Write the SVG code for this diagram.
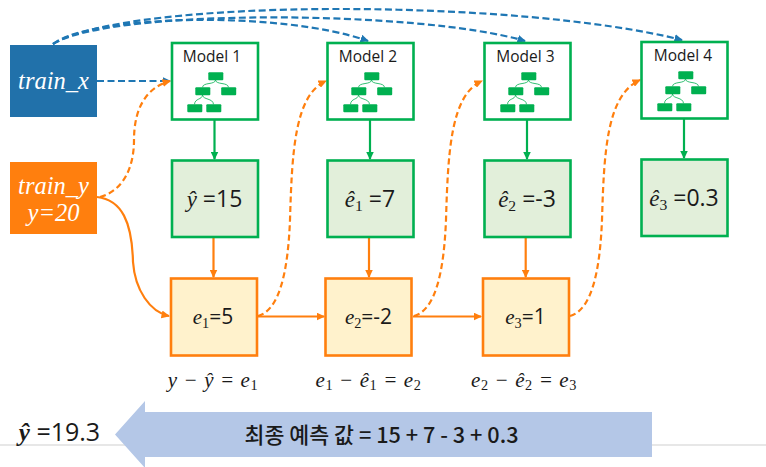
<svg xmlns="http://www.w3.org/2000/svg" xmlns:xlink="http://www.w3.org/1999/xlink" width="766" height="467" viewBox="0 0 766 467">
<style>
.model{fill:#fff;stroke:#00b050;stroke-width:2.600}
.pred{fill:#e2efda;stroke:#00b050;stroke-width:2.600}
.err{fill:#fff2cc;stroke:#ff7f0e;stroke-width:2.600}
.ui{font-family:"Open Sans","Noto Sans",sans-serif;fill:#1a1a1a;text-anchor:middle}
.lbl{font-size:15.500px}
.val{font-size:23px}
.eval{font-size:21px}
.math{font-family:"Liberation Serif","DejaVu Serif",serif;font-style:italic}
.sub{font-size:.68em;font-style:normal}
.inp{font-family:"Liberation Serif",serif;font-style:italic;font-size:24.500px;fill:#fff;text-anchor:middle}
.formula{font-family:"Liberation Serif",serif;font-style:italic;font-size:21px;letter-spacing:.6px;fill:#1a1a1a;text-anchor:middle}
.con{fill:none;stroke-width:2.200}
.blue{stroke:#1f77b4;stroke-dasharray:7 3.500}
.od{stroke:#ff7f0e;stroke-dasharray:6 3.500}
.os{stroke:#ff7f0e}
.gs{stroke:#00b050}
</style>
<defs>
<marker id="ab" markerWidth="9" markerHeight="8" refX="7.500" refY="4" orient="auto" markerUnits="userSpaceOnUse"><path d="M0 0L8.500 4L0 8z" fill="#1f77b4"/></marker>
<marker id="ao" markerWidth="9" markerHeight="8" refX="7.500" refY="4" orient="auto" markerUnits="userSpaceOnUse"><path d="M0 0L8.500 4L0 8z" fill="#ff7f0e"/></marker>
<marker id="ag" markerWidth="9" markerHeight="8" refX="7.500" refY="4" orient="auto" markerUnits="userSpaceOnUse"><path d="M0 0L8.500 4L0 8z" fill="#00b050"/></marker>
<g id="tree">
<path d="M215.500 80C215 85 203 82 202.500 87.300M215.500 80C216 85 228 82 228.500 87.300M202.500 95C202 100 195 98 194.500 104.300M202.500 95C203 100 213 98 213.500 104.300" fill="none" stroke="#00b050" stroke-width=".8"/>
<rect x="208.300" y="72.300" width="15" height="8" rx="1" fill="#00b050"/>
<rect x="195.300" y="87.300" width="15" height="8" rx="1" fill="#00b050"/>
<rect x="221.200" y="87.300" width="15" height="8" rx="1" fill="#00b050"/>
<rect x="187.300" y="104.300" width="15" height="8" rx="1" fill="#00b050"/>
<rect x="206.300" y="104.300" width="15" height="8" rx="1" fill="#00b050"/>
</g>
</defs>
<rect width="766" height="467" fill="#fff"/>
<line x1="0" y1="445" x2="766" y2="445" stroke="#d0d0d0" stroke-width="1.200"/>

<g id="connectors">
<path class="con blue" marker-end="url(#ab)" d="M53 44C90 15 280 10 368 41"/>
<path class="con blue" marker-end="url(#ab)" d="M53 44C110 8 420 10 525 41"/>
<path class="con blue" marker-end="url(#ab)" d="M53 44C130 -3 520 -1 682 40"/>
<path class="con blue" marker-end="url(#ab)" d="M97 81H170"/>
<path class="con od" marker-end="url(#ao)" d="M100 197C125 190 134 165 134 140C134 110 145 88 170 81"/>
<path class="con od" marker-end="url(#ao)" d="M258 316C280 310 288 270 290 220C292 150 295 95 326 81"/>
<path class="con od" marker-end="url(#ao)" d="M414 316C436 310 444 270 446 220C448 150 451 95 482 81"/>
<path class="con od" marker-end="url(#ao)" d="M570 316C592 310 600 270 602 220C604 150 607 95 640 80"/>
<path class="con os" marker-end="url(#ao)" d="M97 197C122 200 132 222 133 262C135 290 150 312 169 316"/>
<path class="con gs" marker-end="url(#ag)" d="M214.500 120V159"/>
<path class="con gs" marker-end="url(#ag)" d="M370 120V159"/>
<path class="con gs" marker-end="url(#ag)" d="M527 120V159"/>
<path class="con gs" marker-end="url(#ag)" d="M684 119V158"/>
<path class="con os" marker-end="url(#ao)" d="M213.500 238V277"/>
<path class="con os" marker-end="url(#ao)" d="M369 238V277"/>
<path class="con os" marker-end="url(#ao)" d="M525.700 238V277"/>
<path class="con os" marker-end="url(#ao)" d="M258 316.500H324"/>
<path class="con os" marker-end="url(#ao)" d="M413 316.500H481"/>
</g>

<g id="train_x"><rect x="10" y="45" width="87" height="72" fill="#2171aa"/><text class="inp" x="53.500" y="89">train_x</text></g>
<g id="train_y"><rect x="10" y="162" width="87" height="72" fill="#ff7f0e"/><text class="inp" x="53.500" y="194">train_y</text><text class="inp" x="53.500" y="221">y=20</text></g>

<g id="model1"><rect class="model" x="172" y="43" width="86" height="76.500"/><text class="ui lbl" x="212" y="62">Model 1</text><use xlink:href="#tree"/></g>
<g id="model2"><rect class="model" x="327.500" y="43" width="86" height="76.500"/><text class="ui lbl" x="368" y="61.500">Model 2</text><use xlink:href="#tree" x="156"/></g>
<g id="model3"><rect class="model" x="484.500" y="43" width="86" height="76.500"/><text class="ui lbl" x="525.500" y="61.500">Model 3</text><use xlink:href="#tree" x="313"/></g>
<g id="model4"><rect class="model" x="641.500" y="42" width="86" height="76.500"/><text class="ui lbl" x="683" y="60.500">Model 4</text><use xlink:href="#tree" x="470" y="-1"/></g>

<g id="pred1"><rect class="pred" x="172" y="160.500" width="86" height="76.500"/><text class="ui val" x="214.500" y="207"><tspan class="math">ŷ</tspan> =15</text></g>
<g id="pred2"><rect class="pred" x="327.500" y="160.500" width="86" height="76.500"/><text class="ui val" x="370" y="207"><tspan class="math">ê<tspan class="sub" dy="4">1</tspan></tspan><tspan dy="-4"> =7</tspan></text></g>
<g id="pred3"><rect class="pred" x="484.500" y="160.500" width="86" height="76.500"/><text class="ui val" x="527" y="207"><tspan class="math">ê<tspan class="sub" dy="4">2</tspan></tspan><tspan dy="-4"> =-3</tspan></text></g>
<g id="pred4"><rect class="pred" x="641.500" y="159.500" width="86" height="76.500"/><text class="ui val" x="684" y="206"><tspan class="math">ê<tspan class="sub" dy="4">3</tspan></tspan><tspan dy="-4"> =0.3</tspan></text></g>

<g id="err1"><rect class="err" x="171" y="278.500" width="86" height="77"/><text class="ui eval" x="213" y="324"><tspan class="math">e<tspan class="sub" dy="4">1</tspan></tspan><tspan dy="-4">=5</tspan></text></g>
<g id="err2"><rect class="err" x="325.500" y="278.500" width="86" height="77"/><text class="ui eval" x="368.500" y="324"><tspan class="math">e<tspan class="sub" dy="4">2</tspan></tspan><tspan dy="-4">=-2</tspan></text></g>
<g id="err3"><rect class="err" x="483" y="278.500" width="86" height="77"/><text class="ui eval" x="525.500" y="324"><tspan class="math">e<tspan class="sub" dy="4">3</tspan></tspan><tspan dy="-4">=1</tspan></text></g>

<g id="formulas">
<text class="formula" x="213" y="387">y − ŷ = e<tspan class="sub" dy="3">1</tspan></text>
<text class="formula" x="368.500" y="387">e<tspan class="sub" dy="3">1</tspan><tspan dy="-3"> − ê</tspan><tspan class="sub" dy="3">1</tspan><tspan dy="-3"> = e</tspan><tspan class="sub" dy="3">2</tspan></text>
<text class="formula" x="524" y="387">e<tspan class="sub" dy="3">2</tspan><tspan dy="-3"> − ê</tspan><tspan class="sub" dy="3">2</tspan><tspan dy="-3"> = e</tspan><tspan class="sub" dy="3">3</tspan></text>
</g>

<g id="final">
<path d="M115 434.500L145 401V412H652V457H145V468z" fill="#b4c7e7"/>
<text class="ui" x="59.500" y="441" font-size="25"><tspan class="math" font-weight="bold">ŷ</tspan> =19.3</text>
<text class="ui" x="381.500" y="443" font-size="21.700" font-weight="500" style="font-family:'Noto Sans CJK KR','Noto Sans',sans-serif">최종 예측 값 = 15 + 7 - 3 + 0.3</text>
</g>
</svg>
